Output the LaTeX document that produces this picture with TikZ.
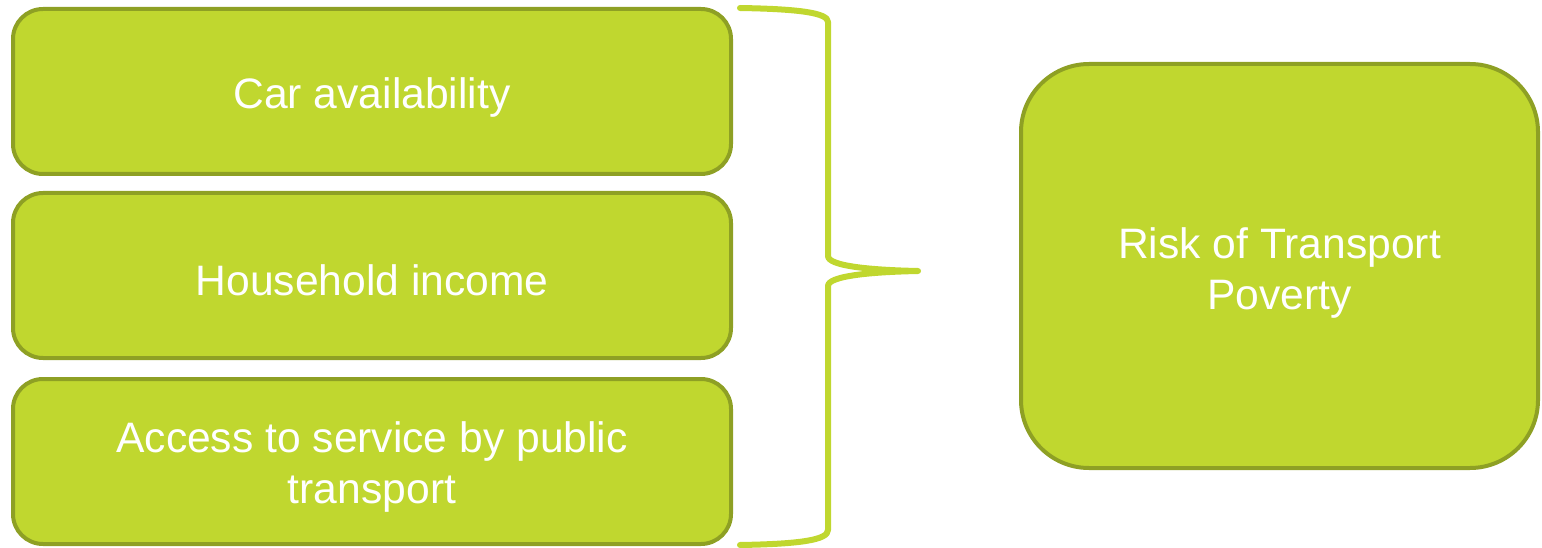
\documentclass[tikz,border=0pt]{standalone}
\usepackage{fontspec}
\setmainfont{Liberation Sans}
\definecolor{boxfill}{RGB}{192,215,47}
\definecolor{boxline}{RGB}{142,160,36}
\definecolor{bracecol}{RGB}{192,215,47}
\begin{document}
\begin{tikzpicture}[x=1pt,y=-1pt,
  factor/.style={draw=boxline, fill=boxfill, line width=4pt, rounded corners=30pt},
  result/.style={draw=boxline, fill=boxfill, line width=4pt, rounded corners=68pt},
  lbl/.style={text=white, align=center, font=\fontsize{42.6}{51}\selectfont, inner sep=0pt},
  bracestyle/.style={draw=bracecol, line width=6pt, line cap=round, line join=round}]
\useasboundingbox (0,0) rectangle (1542,548);
% left boxes
\draw[factor] (13,9) rectangle (731,174);
\node[lbl] (car) at (372,97.5) {Car availability};
\draw[factor] (13,193) rectangle (731,358);
\node[lbl] (inc) at (372,280) {Household income};
\draw[factor] (13,379) rectangle (731,544);
\node[lbl] (acc) at (372,466.5) {Access to service by public\\transport};
% right box
\draw[result] (1021,64) rectangle (1538,468);
\node[lbl] (risk) at (1279.5,273) {Risk of Transport\\Poverty};
% brace
\coordinate (btop) at (740,8);
\coordinate (btip) at (918,271);
\coordinate (bbot) at (740,545);
\draw[bracestyle] (btop) .. controls (800,9) and (828,13) .. (828,22)
  -- (828,256) .. controls (828,266) and (870,270) .. (btip)
  .. controls (870,272) and (828,276) .. (828,286)
  -- (828,530) .. controls (828,540) and (800,544) .. (bbot);
\end{tikzpicture}
\end{document}
